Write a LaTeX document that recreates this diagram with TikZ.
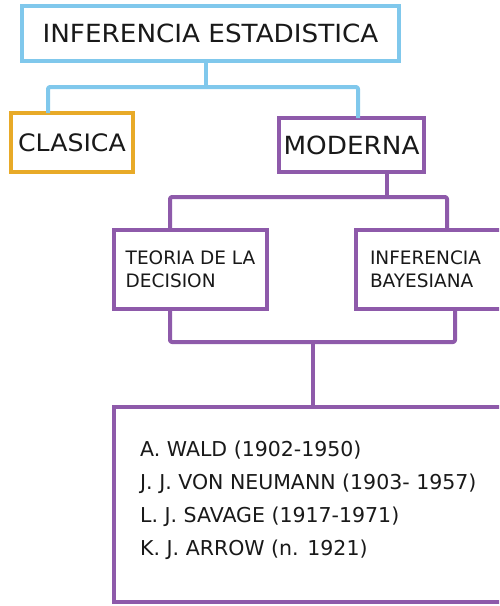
\documentclass[tikz,border=0pt]{standalone}
\usepackage{fontspec}
\setmainfont{DejaVu Sans}
\newfontfamily\widefont[FakeStretch=1.05]{DejaVu Sans}
\definecolor{cblue}{RGB}{128,200,236}
\definecolor{corange}{RGB}{232,170,40}
\definecolor{cpurple}{RGB}{142,90,170}
\tikzset{
  boxbase/.style={draw, line width=4pt, fill=white, outer sep=0pt, inner sep=0pt, text=black!90},
  bluebox/.style={boxbase, draw=cblue},
  orangebox/.style={boxbase, draw=corange},
  purplebox/.style={boxbase, draw=cpurple},
  blueline/.style={draw=cblue, line width=4pt, line join=round, rounded corners=2pt},
  purpleline/.style={draw=cpurple, line width=4pt, line join=round, rounded corners=2pt},
  bigtext/.style={font=\widefont\fontsize{25}{30}\selectfont},
  midtext/.style={font=\fontsize{18.5}{23}\selectfont},
  listtext/.style={font=\fontsize{20.5}{33}\selectfont}
}
\begin{document}
\begin{tikzpicture}[x=1pt,y=-1pt]
\useasboundingbox (0,0) rectangle (499,606);
\clip (0,0) rectangle (499,606);
\fill[white] (0,0) rectangle (499,606);

% junction coordinates
\coordinate (jt) at (206,87);
\coordinate (jc) at (48,87);
\coordinate (jm) at (358,87);
\coordinate (pm) at (387,197);
\coordinate (pl) at (170,197);
\coordinate (pr) at (447,197);
\coordinate (ql) at (170,342);
\coordinate (qr) at (455,342);
\coordinate (qc) at (313,342);

\node[bluebox, bigtext, minimum width=377, minimum height=55] (top) at (210.5,33.5) {INFERENCIA ESTADISTICA};
\node[orangebox, font=\widefont\fontsize{24}{30}\selectfont, minimum width=122, minimum height=59] (clasica) at (72,142.5) {CLASICA};
\node[purplebox, bigtext, minimum width=145, minimum height=54] (moderna) at (351.5,145) {MODERNA};
\node[purplebox, midtext, minimum width=153, minimum height=79, align=left] (teoria) at (190.5,269.5) {TEORIA DE LA\\DECISION};
\node[purplebox, midtext, anchor=north west, minimum height=79, text width=180, inner xsep=14, align=left] (bayes) at (356,230) {INFERENCIA\\BAYESIANA};
\node[purplebox, anchor=north west, minimum width=420, minimum height=195] (authors) at (114,407) {};
\node[listtext, anchor=west, align=left, text=black!90, inner sep=0pt] (names) at (140,500) {A. WALD (1902-1950)\\J. J. VON NEUMANN (1903- 1957)\\L. J. SAVAGE (1917-1971)\\K. J. ARROW (n. 1921)};

\draw[blueline] (top.south -| jt) -- (jt);
\draw[blueline] (clasica.north -| jc) -- (jc) -- (jm) -- (moderna.north -| jm);
\draw[purpleline] (moderna.south -| pm) -- (pm);
\draw[purpleline] (teoria.north -| pl) -- (pl) -- (pr) -- (bayes.north -| pr);
\draw[purpleline] (teoria.south -| ql) -- (ql) -- (qr) -- (bayes.south -| qr);
\draw[purpleline] (qc) -- (authors.north -| qc);
\end{tikzpicture}
\end{document}
